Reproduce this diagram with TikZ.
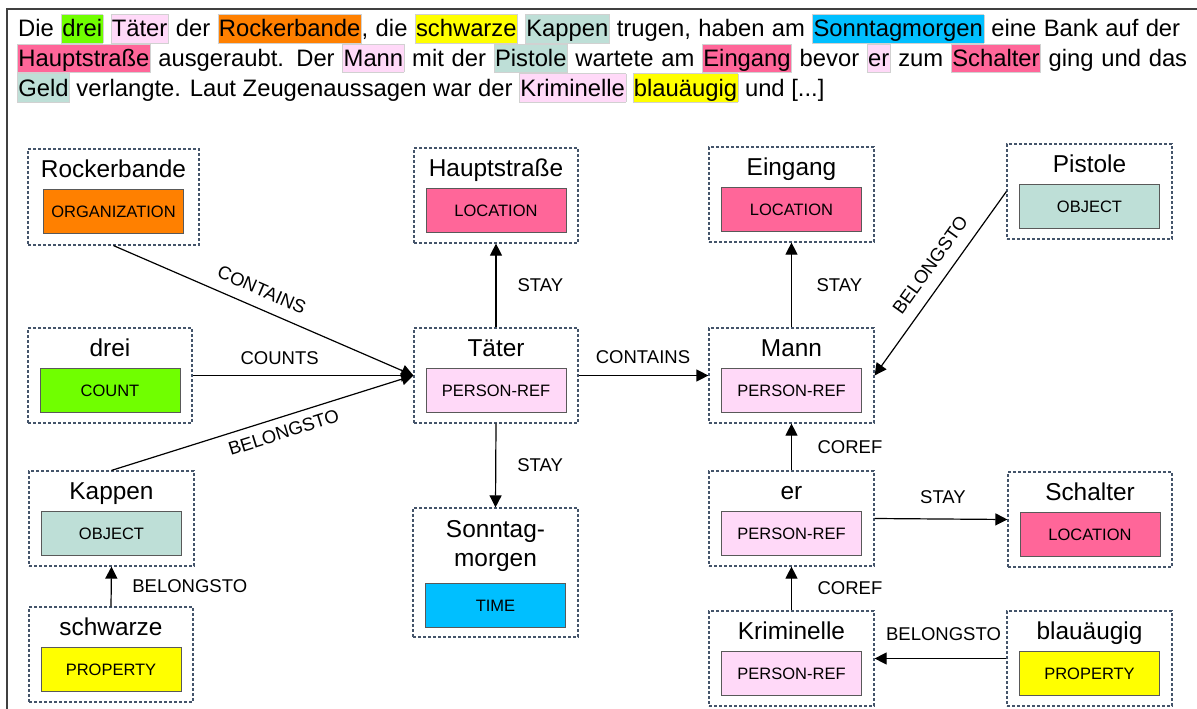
\documentclass[tikz,border=0pt]{standalone}
\usepackage{fontspec}
\setmainfont{Liberation Sans}
\usetikzlibrary{arrows.meta}
\definecolor{cOrg}{RGB}{255,128,0}
\definecolor{cCount}{RGB}{112,255,0}
\definecolor{cObj}{RGB}{190,223,215}
\definecolor{cProp}{RGB}{255,255,0}
\definecolor{cLoc}{RGB}{255,102,153}
\definecolor{cPers}{RGB}{255,217,248}
\definecolor{cTime}{RGB}{0,191,255}
\definecolor{cDash}{RGB}{68,84,106}
\newcommand\hlw[2]{{\setlength\fboxsep{0.6pt}\setlength\fboxrule{0.6pt}\fcolorbox{black!18}{#1}{\rule[-5pt]{0pt}{26.5pt}#2}}}
\newcommand\mkent[9]{%
  \node[outerbox, minimum width=#4, minimum height=#5] (#1) at (#2,#3) {};
  \node[titletext, anchor=base] (#1-t) at ([yshift=-29pt]#1.north) {#6};
  \node[innerbox, fill=#8, anchor=north] (#1-i) at ([yshift=-#9]#1.north) {#7};
}
\begin{document}
\begin{tikzpicture}[x=1pt,y=-1pt,
  outerbox/.style={draw=cDash, line width=1.2pt, dash pattern=on 3pt off 2pt, inner sep=0pt},
  titletext/.style={font=\fontsize{24.4}{28.7}\selectfont, inner sep=0pt, align=center},
  innerbox/.style={draw=black!65, line width=1pt, minimum width=140pt, minimum height=44pt, inner sep=0pt, font=\fontsize{16.5}{18}\selectfont},
  elab/.style={font=\fontsize{18.5}{20}\selectfont, inner sep=0pt},
  conn/.style={line width=1.2pt, -{Triangle[length=12pt,width=12pt]}},
  toptext/.style={font=\fontsize{23.8}{29}\selectfont, inner sep=0pt, anchor=base west}]
\useasboundingbox (0,0) rectangle (1197,709);
\fill[white] (0,0) rectangle (1197,709);
\draw[line width=1.5pt, black!75] (7,709) -- (7,9) -- (1197,9);

\node[toptext] (l1) at (18,37) {\makebox[1162pt][s]{Die \hlw{cCount}{drei} \hlw{cPers}{Täter} der \hlw{cOrg}{Rockerbande}, die \hlw{cProp}{schwarze} \hlw{cObj}{Kappen} trugen, haben am \hlw{cTime}{Sonntagmorgen} eine Bank auf der}};
\node[toptext] (l2) at (17,66.5) {\makebox[1170pt][s]{\hlw{cLoc}{Hauptstraße} ausgeraubt. Der \hlw{cPers}{Mann} mit der \hlw{cObj}{Pistole} wartete am \hlw{cLoc}{Eingang} bevor \hlw{cPers}{er} zum \hlw{cLoc}{Schalter} ging und das}};
\node[toptext] (l3) at (17,96) {\hlw{cObj}{Geld} verlangte. Laut Zeugenaussagen war der \hlw{cPers}{Kriminelle} \hlw{cProp}{blauäugig} und [...]};

\mkent{rb}{113.5}{197}{171pt}{96pt}{Rockerbande}{ORGANIZATION}{cOrg}{41pt}
\mkent{dr}{110}{375.5}{164pt}{95pt}{drei}{COUNT}{cCount}{41pt}
\mkent{ka}{111.5}{518.5}{165pt}{95pt}{Kappen}{OBJECT}{cObj}{41pt}
\mkent{sw}{111}{654.5}{164pt}{95pt}{schwarze}{PROPERTY}{cProp}{41pt}
\mkent{hs}{496}{195.5}{164pt}{95pt}{Hauptstraße}{LOCATION}{cLoc}{41pt}
\mkent{tae}{496}{375.5}{164pt}{95pt}{Täter}{PERSON-REF}{cPers}{41pt}
\node[outerbox, minimum width=165pt, minimum height=129pt] (so) at (495.5,572.5) {};
\node[titletext, anchor=base] (so-t) at ([yshift=-58.7pt]so.north) {Sonntag-\\morgen};
\node[innerbox, fill=cTime, anchor=north] (so-i) at ([yshift=-76pt]so.north) {TIME};
\mkent{ei}{791.5}{194.5}{165pt}{95pt}{Eingang}{LOCATION}{cLoc}{41pt}
\mkent{ma}{791.5}{375.5}{165pt}{95pt}{Mann}{PERSON-REF}{cPers}{41pt}
\mkent{er}{791.5}{518.5}{165pt}{95pt}{er}{PERSON-REF}{cPers}{41pt}
\mkent{kr}{791.5}{658.5}{165pt}{95pt}{Kriminelle}{PERSON-REF}{cPers}{41pt}
\mkent{pi}{1089.5}{191.5}{165pt}{95pt}{Pistole}{OBJECT}{cObj}{41pt}
\mkent{sc}{1090}{519.5}{164pt}{95pt}{Schalter}{LOCATION}{cLoc}{41pt}
\mkent{bl}{1089.5}{658.5}{165pt}{95pt}{blauäugig}{PROPERTY}{cProp}{41pt}

\draw[conn] (rb.south) -- node[elab, sloped, pos=0.47, above=11.3pt] (e1) {CONTAINS} (tae.west);
\draw[conn] (dr.east) -- node[elab, pos=0.394, above=9.8pt] (e2) {COUNTS} (tae.west);
\draw[conn] (ka.north) -- node[elab, sloped, pos=0.555, below=8.3pt] (e3) {BELONGSTO} (tae.west);
\draw[conn] (sw.north) -- node[elab, right=20.5pt] (e4) {BELONGSTO} (ka.south);
\draw[conn] (tae.north) -- node[elab, right=21pt] (e5) {STAY} (hs.south);
\draw[conn] (tae.south) -- node[elab, right=21pt] (e6) {STAY} (so.north);
\draw[conn] (tae.east) -- node[elab, pos=0.496, above=10.8pt] (e7) {CONTAINS} (ma.west);
\draw[conn] (ma.north) -- node[elab, right=24.5pt] (e8) {STAY} (ei.south);
\draw[conn] (pi.west) -- node[elab, sloped, pos=0.46, above=12pt] (e9) {BELONGSTO} (ma.east);
\draw[conn] (er.north) -- node[elab, right=25.5pt] (e10) {COREF} (ma.south);
\draw[conn] (kr.north) -- node[elab, right=25.5pt] (e11) {COREF} (er.south);
\draw[conn] (er.east) -- node[elab, pos=0.515, above=14.8pt] (e12) {STAY} (sc.west);
\draw[conn] (bl.west) -- node[elab, pos=0.477, above=16.8pt] (e13) {BELONGSTO} (kr.east);
\end{tikzpicture}
\end{document}
